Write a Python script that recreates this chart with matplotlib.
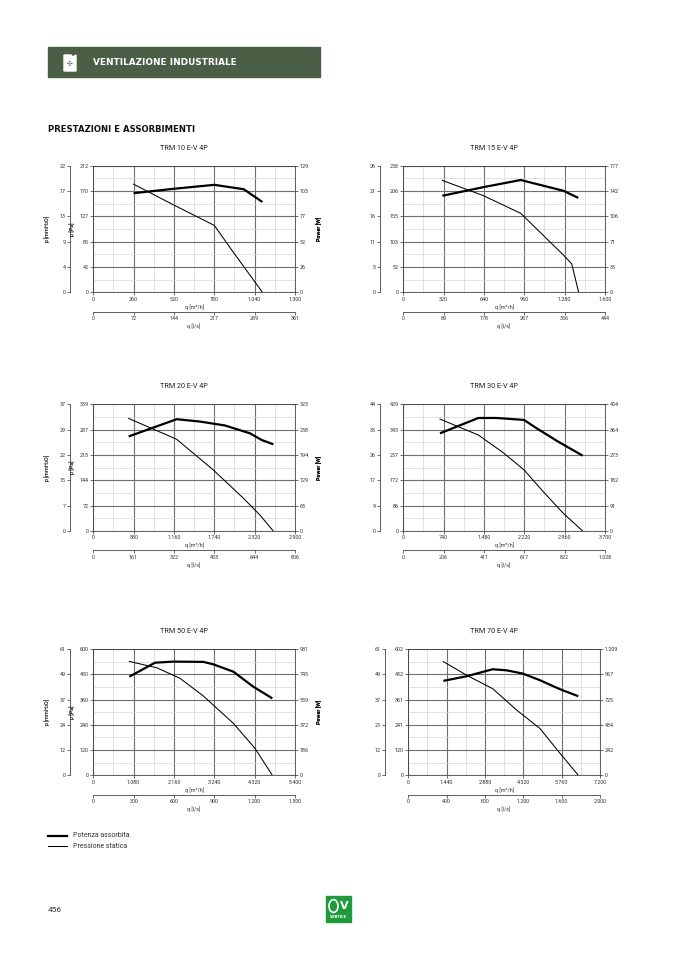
import numpy as np
import matplotlib.pyplot as plt
from matplotlib.patches import Rectangle, Polygon, Circle
from matplotlib.lines import Line2D

plt.rcParams['font.family'] = ['Roboto', 'DejaVu Sans']

# chart data
titles = ["TRM 10 E-V 4P", "TRM 15 E-V 4P", "TRM 20 E-V 4P",
          "TRM 30 E-V 4P", "TRM 50 E-V 4P", "TRM 70 E-V 4P"]

q_max = [1300, 1600, 2900, 3700, 5400, 7200]
pa_max = [212, 258, 359, 429, 600, 602]
w_max = [129, 177, 323, 454, 931, 1209]

q_labels = [["0", "260", "520", "780", "1.040", "1.300"],
            ["0", "320", "640", "960", "1.280", "1.600"],
            ["0", "580", "1.160", "1.740", "2.320", "2.900"],
            ["0", "740", "1.480", "2.220", "2.960", "3.700"],
            ["0", "1.080", "2.160", "3.240", "4.320", "5.400"],
            ["0", "1.440", "2.880", "4.320", "5.760", "7.200"]]
ls_labels = [["0", "72", "144", "217", "289", "361"],
             ["0", "89", "178", "267", "356", "444"],
             ["0", "161", "322", "483", "644", "806"],
             ["0", "206", "411", "617", "822", "1.028"],
             ["0", "300", "600", "900", "1.200", "1.500"],
             ["0", "400", "800", "1.200", "1.600", "2.000"]]
pa_labels = [["0", "42", "85", "127", "170", "212"],
             ["0", "52", "103", "155", "206", "258"],
             ["0", "72", "144", "215", "287", "359"],
             ["0", "86", "172", "257", "343", "429"],
             ["0", "120", "240", "360", "480", "600"],
             ["0", "120", "241", "361", "482", "602"]]
mm_labels = [["0", "4", "9", "13", "17", "22"],
             ["0", "5", "11", "16", "21", "26"],
             ["0", "7", "15", "22", "29", "37"],
             ["0", "9", "17", "26", "35", "44"],
             ["0", "12", "24", "37", "49", "61"],
             ["0", "12", "25", "37", "49", "61"]]
w_labels = [["0", "26", "52", "77", "103", "129"],
            ["0", "35", "71", "106", "142", "177"],
            ["0", "65", "129", "194", "258", "323"],
            ["0", "91", "182", "273", "364", "454"],
            ["0", "186", "372", "559", "745", "931"],
            ["0", "242", "484", "725", "967", "1.209"]]

# pressione statica (q m3/h, Pa)
press_q = [[260, 520, 780, 900, 1090],
           [310, 635, 931, 1270, 1336, 1391],
           [508, 1198, 1725, 2157, 2397, 2588],
           [673, 1376, 1835, 2214, 2568, 2935, 3290],
           [964, 1696, 2320, 2945, 3749, 4329, 4793],
           [1315, 2191, 3168, 4070, 4946, 5697, 6386]]
press_pa = [[181, 146, 112, 68, 0],
            [228, 197, 161, 76, 58, 0],
            [319, 260, 173, 93, 45, 0],
            [379, 325, 265, 207, 133, 60, 0],
            [541, 511, 461, 377, 247, 128, 0],
            [542, 477, 413, 311, 223, 105, 0]]

# potenza assorbita (q m3/h, W)
power_q = [[260, 520, 780, 970, 1090],
           [310, 635, 931, 1269, 1388],
           [508, 1198, 1534, 1893, 2253, 2421, 2588],
           [673, 1376, 1712, 2214, 2446, 2843, 3290],
           [964, 1651, 2142, 2945, 3213, 3749, 4284, 4793],
           [1315, 2191, 3168, 3694, 4295, 4946, 5697, 6386]]
power_w = [[101, 105.5, 109.5, 105, 92],
           [135, 147, 157, 142, 132],
           [241, 285, 279, 269, 249, 232, 221],
           [350, 405, 405, 398, 368, 320, 270],
           [727, 830, 838, 836, 818, 764, 653, 567],
           [904, 948, 1015, 1005, 974, 910, 824, 757]]

W, H = 677, 958
fig = plt.figure(figsize=(6.77, 9.58), dpi=100)


def frac(l, t, r, b):
    return [l / W, 1 - b / H, (r - l) / W, (b - t) / H]


# header band
fig.patches.append(Rectangle((48 / W, 1 - 77 / H), 272 / W, 30 / H,
                             transform=fig.transFigure, color="#4b5e46"))
fig.patches.append(Polygon([(64 / W, 1 - 71 / H), (64 / W, 1 - 55 / H),
                            (71 / W, 1 - 55 / H), (73 / W, 1 - 57 / H),
                            (76 / W, 1 - 55 / H), (76 / W, 1 - 71 / H)],
                           closed=True, transform=fig.transFigure, color="white"))
fig.text(70 / W, 1 - 64 / H, "✣", color="#4b5e46", fontsize=5,
         ha="center", va="center", family=["DejaVu Sans"])
fig.text(93 / W, 1 - 62.5 / H, "VENTILAZIONE INDUSTRIALE", color="white",
         fontsize=6.4, fontweight="bold", va="center", family=["DejaVu Sans"])
fig.text(48 / W, 1 - 130 / H, "PRESTAZIONI E ASSORBIMENTI", color="#111111",
         fontsize=6.1, fontweight="bold", va="center", family=["DejaVu Sans"])

boxes = [(93.3, 165.7, 295, 292.3), (403.3, 165.7, 605, 292.3),
         (93.3, 404.3, 295, 531), (403.3, 404.3, 605, 531),
         (93.3, 649, 295, 775.3), (408.3, 649, 600, 775.3)]
title_x = [184, 494, 184, 494, 184, 494]

tc = "#333333"
fs = 3.9

for i in range(6):
    l, t, r, b = boxes[i]
    pw = r - l
    ax = fig.add_axes(frac(l, t, r, b))
    ax.set_xlim(0, q_max[i])
    ax.set_ylim(0, pa_max[i])
    xt = np.linspace(0, q_max[i], 6)
    yt = np.linspace(0, pa_max[i], 6)
    ax.set_xticks(xt)
    ax.set_xticklabels(q_labels[i])
    ax.set_yticks(yt)
    ax.set_yticklabels(pa_labels[i])
    ax.set_xticks((xt[:-1] + xt[1:]) / 2, minor=True)
    ax.set_yticks((yt[:-1] + yt[1:]) / 2, minor=True)
    ax.grid(which="minor", color="#d6d6d6", lw=0.5)
    ax.grid(which="major", color="#6e6e6e", lw=0.8)
    ax.set_axisbelow(True)
    ax.tick_params(which="major", labelsize=fs, colors=tc, length=2,
                   width=0.5, pad=1.2)
    ax.tick_params(which="minor", length=0)
    for s in ax.spines.values():
        s.set_color("#444444")
        s.set_linewidth(0.6)
    ax.set_xlabel("q [m³/h]", fontsize=fs, color=tc, labelpad=1.5)
    ax.set_ylabel("p [Pa]", fontsize=fs, color=tc)
    ax.yaxis.set_label_coords((75 - l) / pw, 0.5)

    ax.plot(press_q[i], press_pa[i], color="black", lw=0.75, zorder=3)

    # power axis (right)
    axw = ax.twinx()
    axw.set_ylim(0, w_max[i])
    axw.set_yticks(np.linspace(0, w_max[i], 6))
    axw.set_yticklabels(w_labels[i])
    axw.tick_params(labelsize=fs, colors=tc, length=2, width=0.5, pad=1.2)
    for s in axw.spines.values():
        s.set_visible(False)
    axw.set_ylabel("Power [W]", fontsize=fs, fontweight="bold", color="#111111")
    axw.yaxis.set_label_coords((316 - l) / pw, 0.5)
    axw.plot(power_q[i], power_w[i], color="black", lw=1.6,
             solid_capstyle="butt", zorder=4)

    # mmH2O axis (outer left)
    axm = ax.twinx()
    axm.set_ylim(0, pa_max[i])
    axm.set_yticks(yt)
    axm.set_yticklabels(mm_labels[i])
    for s in ["top", "right", "bottom"]:
        axm.spines[s].set_visible(False)
    axm.spines["left"].set_position(("outward", 16.5))
    axm.spines["left"].set_color("#444444")
    axm.spines["left"].set_linewidth(0.6)
    axm.yaxis.set_ticks_position("left")
    axm.yaxis.set_label_position("left")
    axm.tick_params(labelsize=fs, colors=tc, length=2, width=0.5, pad=1.2)
    axm.set_ylabel("p [mmH$_2$O]", fontsize=fs, color=tc)
    axm.yaxis.set_label_coords((52.5 - l) / pw, 0.5)

    # l/s axis (second bottom)
    axl = ax.twiny()
    axl.set_xlim(0, q_max[i])
    axl.set_xticks(xt)
    axl.set_xticklabels(ls_labels[i])
    for s in ["top", "right", "left"]:
        axl.spines[s].set_visible(False)
    axl.spines["bottom"].set_position(("outward", 14))
    axl.spines["bottom"].set_color("#444444")
    axl.spines["bottom"].set_linewidth(0.6)
    axl.xaxis.set_ticks_position("bottom")
    axl.xaxis.set_label_position("bottom")
    axl.tick_params(labelsize=fs, colors=tc, length=2, width=0.5, pad=1.2)
    axl.set_xlabel("q [l/s]", fontsize=fs, color=tc, labelpad=1.5)

    fig.text(title_x[i] / W, 1 - (t - 17.5) / H, titles[i], fontsize=5.2,
             color="#222222", ha="center", va="center")

# legend
fig.add_artist(Line2D([48 / W, 67 / W], [1 - 835.7 / H, 1 - 835.7 / H],
                      color="black", lw=1.6))
fig.add_artist(Line2D([48 / W, 67 / W], [1 - 846 / H, 1 - 846 / H],
                      color="black", lw=0.75))
fig.text(73 / W, 1 - 835.7 / H, "Potenza assorbita", fontsize=5, color=tc,
         va="center")
fig.text(73 / W, 1 - 846 / H, "Pressione statica", fontsize=5, color=tc,
         va="center")

# page number
fig.text(48 / W, 1 - 910 / H, "456", fontsize=6, color="#333333", va="center")

# logo
fig.patches.append(Rectangle((326 / W, 1 - 922 / H), 25 / W, 26 / H,
                             transform=fig.transFigure, color="#1e9c3c"))
fig.patches.append(Circle((333.5 / W, 1 - 906 / H), 4.5 / W,
                          transform=fig.transFigure, fill=False,
                          edgecolor="white", lw=1.2))
fig.text(344.5 / W, 1 - 906 / H, "V", fontsize=8, fontweight="bold",
         color="white", ha="center", va="center", family=["DejaVu Sans"])
fig.text(338.5 / W, 1 - 917.5 / H, "VORTICE", fontsize=2.6, fontweight="bold",
         color="white", ha="center", va="center", family=["DejaVu Sans"])

fig.savefig("out.png", dpi=100)
